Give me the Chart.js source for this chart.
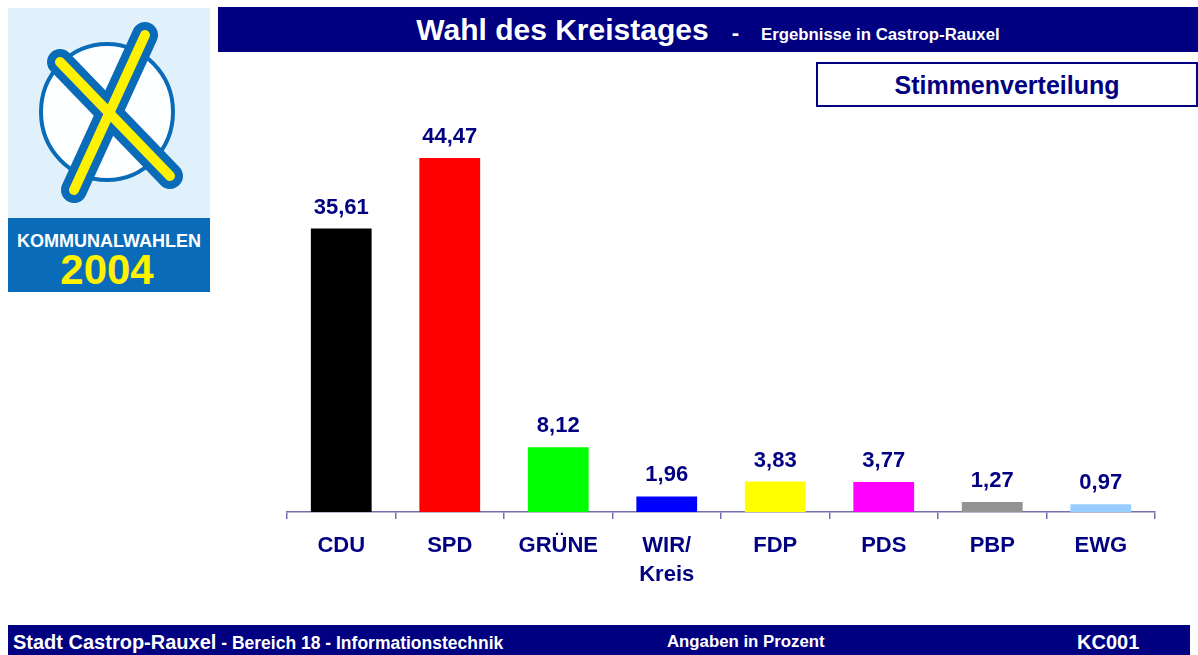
<!DOCTYPE html>
<html>
<head>
<meta charset="utf-8">
<script src="https://cdn.jsdelivr.net/npm/chart.js@4.4.1/dist/chart.umd.min.js"></script>
<style>
  body { margin: 0; width: 1198px; height: 655px; background: #fff; position: relative; overflow: hidden;
         font-family: "Liberation Sans", Arial, sans-serif; font-weight: bold; }
  #logo { position: absolute; left: 8px; top: 8px; width: 202px; height: 284px; }
  #head { position: absolute; left: 218px; top: 7px; width: 980px; height: 45px; background: #000080; color: #fff;
          display: flex; justify-content: center; align-items: baseline; line-height: 45px; }
  #head .big { font-size: 30px; }
  #head .dash { font-size: 22px; margin: 0 22px 0 23px; }
  #head .small { font-size: 16.8px; }
  #sub { position: absolute; left: 816px; top: 62px; width: 378px; height: 41px; border: 2px solid #000080;
         color: #000080; font-size: 25px; text-align: center; line-height: 43px; }
  #foot { position: absolute; left: 8px; top: 625px; width: 1182px; height: 30px; background: #000080; color: #fff; }
  #foot span { position: absolute; top: 0; line-height: 34px; white-space: pre; }
  #chart { position: absolute; left: 277px; top: 100px; }
</style>
</head>
<body>
<svg id="logo" viewBox="0 0 202 284">
  <rect x="0" y="0" width="202" height="284" fill="#e1f1fb"/>
  <ellipse cx="99" cy="104" rx="66" ry="68" fill="#fcfeff" stroke="#0a6cb8" stroke-width="4"/>
  <path d="M52 54 L162 168" stroke="#0a6cb8" stroke-width="26" stroke-linecap="round"/>
  <path d="M137 27 L66 182" stroke="#0a6cb8" stroke-width="26" stroke-linecap="round"/>
  <path d="M52 54 L162 168" stroke="#fff200" stroke-width="10" stroke-linecap="round"/>
  <path d="M137 27 L66 182" stroke="#fff200" stroke-width="10" stroke-linecap="round"/>
  <rect x="0" y="210" width="202" height="74" fill="#0a6cb8"/>
  <text x="101" y="239" fill="#fff" font-size="18" text-anchor="middle" font-family="Liberation Sans, Arial" font-weight="bold">KOMMUNALWAHLEN</text>
  <text x="99" y="276" fill="#fff200" font-size="42" text-anchor="middle" font-family="Liberation Sans, Arial" font-weight="bold">2004</text>
</svg>

<div id="head"><span class="big">Wahl des Kreistages</span><span class="dash">-</span><span class="small">Ergebnisse in Castrop-Rauxel</span></div>
<div id="sub">Stimmenverteilung</div>

<canvas id="chart" width="888" height="502"></canvas>

<div id="foot">
  <span style="left:5px;font-size:20px">Stadt Castrop-Rauxel<span style="position:static;font-size:17.5px"> - Bereich 18 - Informationstechnik</span></span>
  <span style="left:659px;font-size:16.8px">Angaben in Prozent</span>
  <span style="left:1069px;font-size:20px">KC001</span>
</div>

<script>
const parties = ['CDU', 'SPD', 'GRÜNE', ['WIR/', 'Kreis'], 'FDP', 'PDS', 'PBP', 'EWG'];
const shares = [35.61, 44.47, 8.12, 1.96, 3.83, 3.77, 1.27, 0.97];
const partyColors = ['#000000', '#ff0000', '#00ff00', '#0000ff', '#ffff00', '#ff00ff', '#939393', '#99ccff'];

const navy = '#000080';

// writes the value above each bar, german decimal comma
const valueLabels = {
  id: 'valueLabels',
  afterDatasetsDraw(chart) {
    const c = chart.ctx;
    c.save();
    c.font = 'bold 22px "Liberation Sans", Arial, sans-serif';
    c.fillStyle = navy;
    c.textAlign = 'center';
    c.textBaseline = 'alphabetic';
    chart.getDatasetMeta(0).data.forEach((bar, i) => {
      c.fillText(shares[i].toFixed(2).replace('.', ','), bar.x, bar.y - 15);
    });
    c.restore();
  }
};

new Chart(document.getElementById('chart'), {
  type: 'bar',
  data: {
    labels: parties,
    datasets: [{
      data: shares,
      backgroundColor: partyColors,
      borderWidth: 0,
      categoryPercentage: 1,
      barPercentage: 0.56
    }]
  },
  options: {
    responsive: false,
    animation: false,
    devicePixelRatio: 1,
    layout: { padding: { left: 10, right: 10, top: 14, bottom: 0 } },
    plugins: { legend: { display: false }, tooltip: { enabled: false } },
    scales: {
      y: { display: false, min: 0, max: 50 },
      x: {
        afterFit: (scale) => { scale.height = 90; },
        border: { color: '#7070b0', width: 1.5 },
        grid: { drawOnChartArea: false, color: '#7070b0', lineWidth: 1.5, tickLength: 7 },
        ticks: {
          color: navy,
          padding: 13,
          maxRotation: 0,
          font: { family: '"Liberation Sans", Arial, sans-serif', size: 22, weight: 'bold', lineHeight: 1.3 }
        }
      }
    }
  },
  plugins: [valueLabels]
});
</script>
</body>
</html>
